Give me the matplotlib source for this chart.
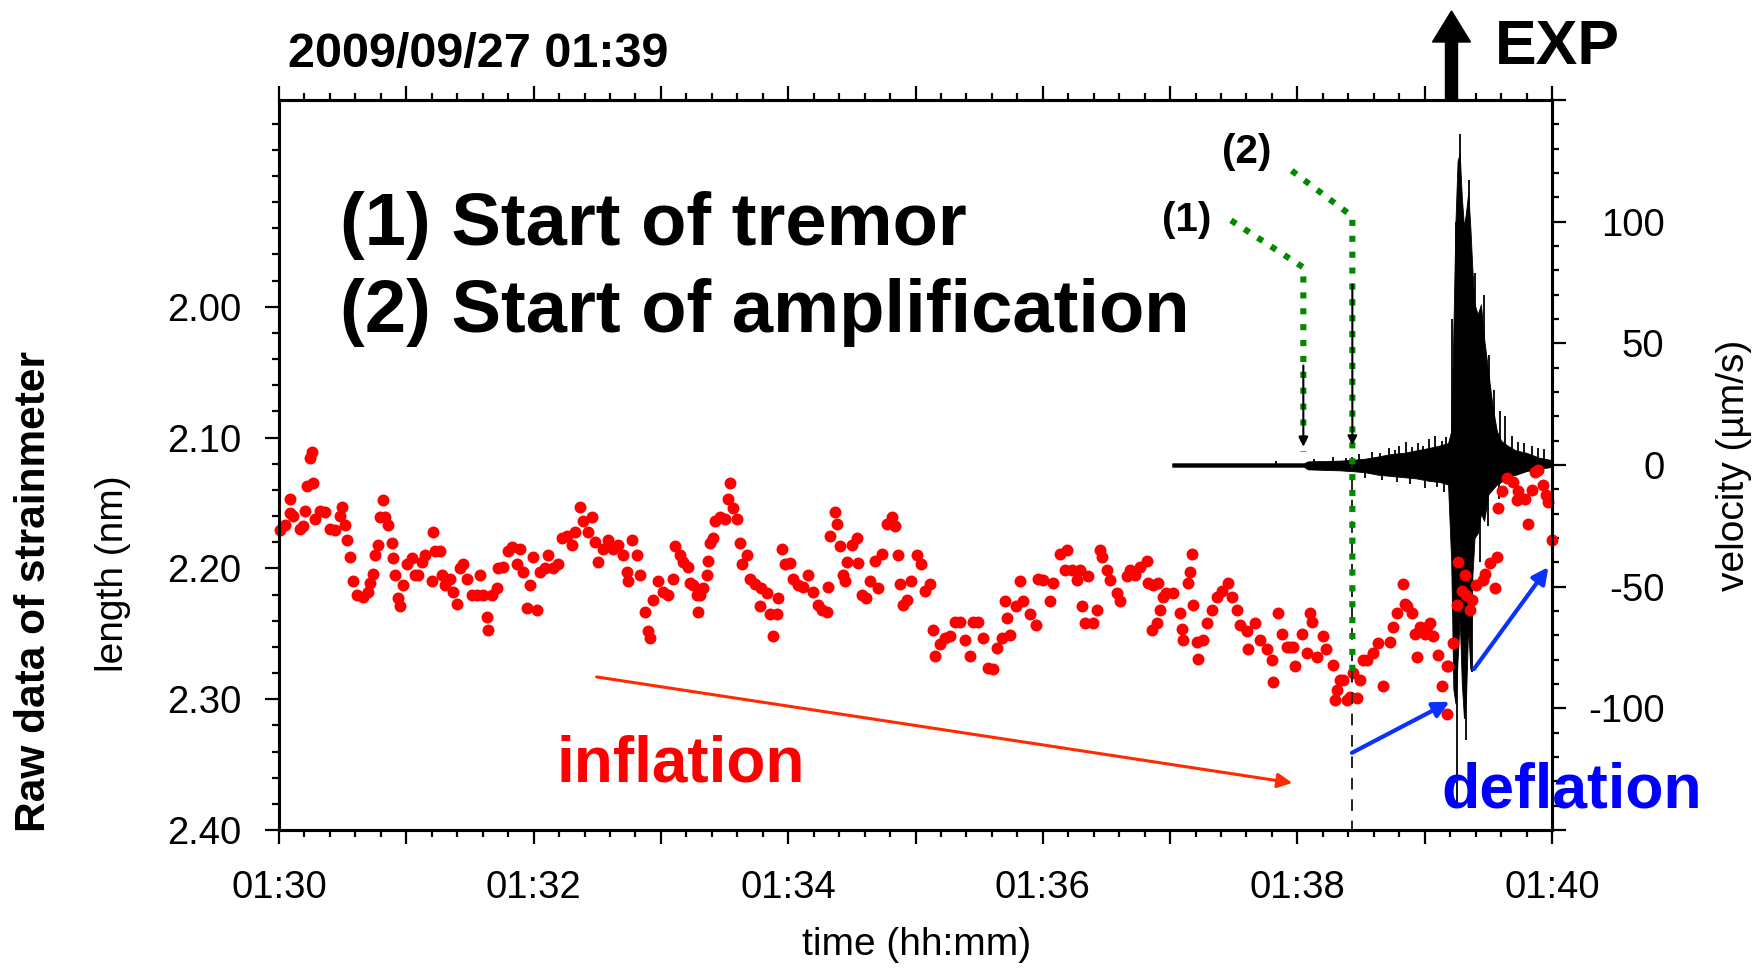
import matplotlib
matplotlib.use("Agg")
import matplotlib.pyplot as plt
import numpy as np
from matplotlib.patches import FancyArrow

plt.rcParams["font.family"] = ["Liberation Sans", "DejaVu Sans"]

W, H = 1765, 971  # output size in pixels


def fx(x):
    return x / W


def fy(y):
    return 1 - y / H


# ---- strainmeter samples: seconds after 01:30:00, length (nm) ----
strain_t = [
    0.5, 2.8, 5.2, 5.2, 6.8, 9.9, 11.5, 12.3, 13.0, 14.6, 15.4, 16.2, 17.0, 19.3, 21.7, 24.0,
    26.4, 28.8, 29.5, 31.1, 31.9, 33.5, 35.0, 36.6, 39.7, 42.1, 42.9, 44.5, 45.2, 46.8, 47.6,
    49.2, 50.0, 51.5, 53.1, 53.9, 54.7, 56.2, 57.0, 58.6, 60.2, 62.5, 64.1, 65.7, 67.2, 68.8,
    71.9, 72.7, 73.5, 75.9, 76.7, 78.2, 80.6, 82.2, 83.7, 85.3, 86.9, 88.4, 90.8, 93.2, 94.7,
    96.3, 97.9, 98.7, 100.2, 102.6, 103.4, 105.7, 108.1, 109.7, 112.0, 113.6, 115.2, 116.7,
    118.3, 119.9, 121.4, 123.0, 125.4, 126.9, 129.3, 131.7, 133.2, 135.6, 138.0, 139.5, 141.9,
    143.4, 145.8, 147.4, 148.9, 150.5, 152.9, 155.2, 157.6, 159.9, 162.3, 163.9, 164.6, 166.2,
    168.6, 170.1,
    172.5, 174.0, 174.8, 176.4, 178.7, 181.1, 183.5, 185.8, 186.6, 189.0, 190.5, 192.9, 193.7,
    195.2, 196.8, 197.6, 198.4, 200.0, 201.5, 202.3, 203.1, 204.7, 205.4, 207.8, 210.2, 211.7,
    212.5, 214.1, 215.7, 217.2, 218.0, 220.4, 221.9, 224.3, 226.7, 227.4, 229.8, 231.4, 232.9,
    234.5, 235.3, 236.9, 238.4, 240.8, 242.4, 244.7, 247.1, 249.4, 251.8, 254.1, 255.7, 258.1,
    258.9, 259.6, 262.0, 262.8, 264.4, 265.9, 266.7, 267.5, 269.9, 272.2, 273.0, 274.6, 276.9,
    278.5, 280.9, 282.4, 284.0, 286.4, 288.7, 290.3, 291.9, 292.6, 294.2, 295.8, 298.1, 300.5,
    302.8, 304.4, 306.8, 308.3, 309.1, 311.5, 313.8, 316.2, 318.6, 320.9, 323.3, 325.6, 327.2,
    329.6, 331.9, 334.3, 336.6, 338.2, 340.6, 342.1, 342.9, 344.5, 347.6, 349.2, 350.8, 353.9,
    357.0, 357.8,
    360.2, 363.4, 365.0, 368.1, 370.5, 371.2, 373.6, 376.0, 377.5, 378.3, 379.9, 381.4, 383.8,
    385.4, 386.9, 387.7, 390.1, 391.6, 394.8, 396.4, 399.5, 401.1, 403.4, 405.8, 408.9, 409.7,
    411.3, 412.1, 413.6, 414.4, 415.2, 416.8, 418.3, 421.5, 424.6, 425.4, 426.2, 428.6, 429.3,
    430.1, 430.9, 432.5, 433.3, 435.6, 437.2, 439.6, 441.9, 444.3, 447.4, 449.0, 451.3, 452.9,
    456.1, 456.8, 460.0, 462.3, 465.5, 467.8, 468.6, 471.0, 472.6, 474.9,
    476.5, 478.1, 478.8, 482.0, 484.3, 485.9, 486.7, 489.1, 492.2, 493.7, 496.9, 497.7, 498.5,
    500.0, 501.6, 503.2, 504.8, 506.3, 507.9, 509.5, 511.0, 512.6, 515.8, 518.1, 520.5, 523.6,
    525.2, 526.8,
    529.9, 530.7, 531.5, 533.8, 535.4, 536.2, 537.7, 540.1, 540.9, 542.5, 544.0, 546.4, 548.0,
    550.3, 550.7, 551.1, 553.5, 555.1, 555.8, 557.4, 558.9, 559.7, 561.4, 562.1, 564.4, 567.6,
    568.4, 570.7, 573.1, 573.9, 574.6, 576.2, 578.6, 581.7, 583.3, 584.1, 587.2, 588.8, 590.4,
    591.9, 593.5, 595.9, 597.4, 598.2, 599.8,
]
strain_nm = [
    2.171, 2.167, 2.147, 2.158, 2.160, 2.170, 2.168, 2.156, 2.137, 2.116, 2.111, 2.135, 2.162,
    2.156, 2.157, 2.170, 2.171, 2.160, 2.153, 2.167, 2.178, 2.191, 2.210, 2.220, 2.222, 2.218,
    2.211, 2.204, 2.190, 2.182, 2.161, 2.148, 2.161, 2.167, 2.181, 2.192, 2.205, 2.223, 2.229,
    2.213, 2.197, 2.192, 2.205, 2.205, 2.195, 2.190, 2.210, 2.172, 2.187, 2.187, 2.205, 2.213,
    2.208, 2.218, 2.227, 2.200, 2.197, 2.208, 2.220, 2.220, 2.205, 2.220, 2.237, 2.247, 2.220,
    2.215, 2.200, 2.199, 2.187, 2.184, 2.197, 2.185, 2.203, 2.230, 2.213, 2.191, 2.232, 2.203,
    2.200, 2.190, 2.200, 2.197, 2.177, 2.175, 2.182, 2.172, 2.153, 2.164, 2.172, 2.161, 2.180,
    2.195, 2.185, 2.178, 2.185, 2.182, 2.190, 2.203, 2.210, 2.178, 2.190, 2.205,
    2.233, 2.248, 2.253, 2.224, 2.210, 2.218, 2.220, 2.208, 2.183, 2.190, 2.195, 2.199, 2.211,
    2.213, 2.220, 2.233, 2.220, 2.215, 2.205, 2.194, 2.181, 2.177, 2.164, 2.161, 2.162, 2.147,
    2.135, 2.154, 2.162, 2.181, 2.197, 2.190, 2.208, 2.212, 2.229, 2.215, 2.219, 2.235, 2.252,
    2.235, 2.223, 2.185, 2.197, 2.196, 2.208, 2.213, 2.214, 2.205, 2.218, 2.228, 2.232, 2.233,
    2.214, 2.175, 2.157, 2.166, 2.183, 2.205, 2.210, 2.195, 2.182, 2.177, 2.196, 2.220, 2.223,
    2.210, 2.194, 2.215, 2.189, 2.166, 2.161, 2.168, 2.190, 2.212, 2.228, 2.224, 2.210, 2.190,
    2.197, 2.217, 2.212, 2.247, 2.267, 2.258, 2.253, 2.252, 2.241, 2.241, 2.255, 2.267, 2.241,
    2.241, 2.253, 2.276, 2.277, 2.261, 2.253, 2.225, 2.238, 2.251, 2.229, 2.210, 2.225, 2.235,
    2.243, 2.208,
    2.209, 2.225, 2.211, 2.189, 2.201, 2.186, 2.201, 2.209, 2.201, 2.229, 2.242, 2.206, 2.242,
    2.232, 2.186, 2.191, 2.201, 2.209, 2.219, 2.225, 2.206, 2.201, 2.205, 2.199, 2.194, 2.211,
    2.247, 2.213, 2.242, 2.211, 2.232, 2.222, 2.219, 2.219, 2.234, 2.246, 2.255, 2.211, 2.203,
    2.189, 2.228, 2.256, 2.269, 2.255, 2.242, 2.232, 2.222, 2.217, 2.211, 2.222, 2.232, 2.243,
    2.248, 2.262, 2.242, 2.255, 2.262, 2.270, 2.287, 2.234, 2.250, 2.260,
    2.260, 2.260, 2.275, 2.250, 2.265, 2.234, 2.241, 2.268, 2.252, 2.262, 2.274, 2.301, 2.293,
    2.285, 2.285, 2.301, 2.298, 2.280, 2.299, 2.285, 2.270, 2.270, 2.265, 2.257, 2.290, 2.256,
    2.245, 2.234,
    2.212, 2.227, 2.229, 2.234, 2.250, 2.268, 2.245, 2.250, 2.245, 2.242, 2.252, 2.266, 2.290,
    2.311, 2.275, 2.275, 2.257, 2.228, 2.195, 2.217, 2.205, 2.220, 2.232, 2.224, 2.213, 2.209,
    2.204, 2.196, 2.215, 2.191, 2.154, 2.141, 2.131, 2.134, 2.148, 2.141, 2.147, 2.166, 2.140,
    2.126, 2.125, 2.136, 2.144, 2.149, 2.178,
]

# ---- seismometer velocity envelope (um/s) ----
seis_t = [421, 450, 483, 485, 500, 507, 512, 518, 524, 530, 536, 542, 547, 551, 552.5, 553.5,
          554.5, 555.5, 556.5, 557.5, 558.5, 559.5, 560.5, 561.5, 562.5, 563.5, 565, 566.5,
          568, 570, 572, 574, 576, 579, 583, 588, 594, 600]
seis_upper = [0.7, 0.7, 0.7, 1.5, 1.8, 2.2, 2.6, 3.5, 4.5, 5.0, 6.0, 7.0, 8.0, 9.0, 14, 55,
              100, 125, 128, 110, 98, 104, 112, 98, 80, 66, 62, 66, 52, 38, 24, 14, 10, 8, 6,
              5, 3, 2]
seis_lower = [-0.7, -0.7, -0.7, -1.8, -2.2, -2.6, -3.0, -4.0, -4.5, -5.0, -5.5, -6.5, -7.0,
              -8.0, -40, -92, -98, -80, -63, -90, -104, -95, -66, -84, -45, -30, -28, -20,
              -23, -12, -10, -8, -7, -5, -4, -2.5, -1.5, -0.8]
# isolated spikes of the trace
spike_t = [470, 488, 497, 503, 509, 515, 519, 523, 526, 528, 531, 534, 537, 539, 542, 545,
           548, 550, 552.7, 554.6, 556.6, 559.8, 561.0, 563.5, 567.9, 570.5, 572.6, 575.5,
           578.0, 581, 584.0, 587, 590.7, 593.5, 596.2,
           512, 520, 527, 533, 540, 546, 549, 555.4, 559.7, 562.2, 566, 570, 575, 580]
spike_v = [1.8, 2.5, 3.2, 3.0, 4.5, 5.5, 5.0, 7.0, 6.0, 8.0, 9.5, 7.5, 9.0, 8.0, 10.5, 12.0,
           10.0, 11.5, 60, 100, 136, 102, 117, 79, 70, 45, 31, 22, 20, 12, 9.6, 9, 8, 7, 6.6,
           -5.5, -6, -7, -8, -9.5, -9, -11, -141, -113, -85, -40, -25, -14, -9]

x_ticks = [0, 120, 240, 360, 480, 600]
x_ticklabels = ["01:30", "01:32", "01:34", "01:36", "01:38", "01:40"]
y_ticks = [2.00, 2.10, 2.20, 2.30, 2.40]
y_ticklabels = ["2.00", "2.10", "2.20", "2.30", "2.40"]
v_ticks = [-100, -50, 0, 50, 100]
v_ticklabels = ["-100", "-50", "0", "50", "100"]

T_TREMOR = 482.8      # (1) start of tremor
T_AMPLIFY = 505.9     # (2) start of amplification

RED = "#ff0000"
GREEN = "#008a00"
BLUE = "#0a32ff"

fig = plt.figure(figsize=(W / 100, H / 100), dpi=100)
ax = fig.add_axes([fx(279), fy(830), (1552 - 279) / W, (830 - 100) / H])
ax2 = ax.twinx()
ax.set_zorder(2)
ax2.set_zorder(1)
ax.patch.set_visible(False)

# seismogram on the right axis
ax2.fill_between(seis_t, seis_lower, seis_upper, color="black", lw=0.6)
ax2.vlines(spike_t, 0, spike_v, color="black", lw=1.3)
ax2.set_ylim(-150, 150)

# strain data on the left axis (inverted)
ax.plot(strain_t, strain_nm, "o", color=RED, ms=8.6, mew=0, clip_on=False)
ax.set_xlim(0, 600)
ax.set_ylim(2.40, 1.842)

# axes styling
for a in (ax, ax2):
    for sp in a.spines.values():
        sp.set_linewidth(2.2)
ax.set_xticks(np.arange(0, 601, 60))
ax.set_xticklabels([x_ticklabels[i // 2] if i % 2 == 0 else "" for i in range(11)],
                   fontsize=27.5)
ax.set_xticks(np.arange(0, 601, 12), minor=True)
ax.set_yticks(y_ticks)
ax.set_yticklabels(y_ticklabels, fontsize=27.5)
ax.set_yticks(np.arange(1.86, 2.401, 0.02), minor=True)
ax.tick_params(axis="x", which="both", direction="out", top=True, bottom=True, width=1.6)
ax.tick_params(axis="x", which="major", length=10, pad=19)
ax.tick_params(axis="x", which="minor", length=5)
ax.tick_params(axis="y", which="both", direction="out", width=1.6)
ax.tick_params(axis="y", which="major", length=10, pad=17)
ax.tick_params(axis="y", which="minor", length=5)

ax2.set_yticks(v_ticks + [-150, 150])
ax2.set_yticklabels(v_ticklabels + ["", ""], fontsize=27.5, ha="right")
ax2.set_yticks(np.arange(-140, 150, 10), minor=True)
ax2.tick_params(axis="y", which="both", direction="out", width=1.6)
ax2.tick_params(axis="y", which="major", length=10, pad=71)
ax2.tick_params(axis="y", which="minor", length=5)

# tremor markers
ax.annotate("", xy=(T_TREMOR, 2.107), xytext=(T_TREMOR, 2.045),
            arrowprops=dict(arrowstyle="-|>", color="black", lw=1.5, mutation_scale=14,
                            shrinkA=0, shrinkB=0))
ax.annotate("", xy=(T_AMPLIFY, 2.106), xytext=(T_AMPLIFY, 1.983),
            arrowprops=dict(arrowstyle="-|>", color="black", lw=1.5, mutation_scale=14,
                            shrinkA=0, shrinkB=0))
ax.plot([T_AMPLIFY, T_AMPLIFY], [2.115, 2.40], color="#222222", lw=1.4, ls=(0, (6, 5)))
dots = (0, (1, 1.6))
ax.plot([448.7, T_TREMOR, T_TREMOR], [1.934, 1.970, 2.111], color=GREEN, lw=4.4,
        ls=dots, dash_capstyle="butt")
ax.plot([477.3, T_AMPLIFY, T_AMPLIFY], [1.896, 1.931, 2.283], color=GREEN, lw=4.4,
        ls=dots, dash_capstyle="butt")

# trend arrows
ax.annotate("", xy=(477.6, 2.364), xytext=(149.7, 2.283),
            arrowprops=dict(arrowstyle="-|>", color="#ff2a00", lw=2.2, mutation_scale=22,
                            shrinkA=0, shrinkB=0))
ax.annotate("", xy=(551.7, 2.302), xytext=(505.7, 2.341),
            arrowprops=dict(arrowstyle="-|>", color=BLUE, lw=3, mutation_scale=24,
                            shrinkA=0, shrinkB=0))
ax.annotate("", xy=(598.3, 2.199), xytext=(563.2, 2.277),
            arrowprops=dict(arrowstyle="-|>", color=BLUE, lw=3, mutation_scale=24,
                            shrinkA=0, shrinkB=0))

# texts
fig.text(fx(340), fy(245), "(1) Start of tremor", fontsize=53.5, fontweight="bold",
         va="baseline")
fig.text(fx(340), fy(332), "(2) Start of amplification", fontsize=53.5, fontweight="bold",
         va="baseline")
fig.text(fx(1162), fy(231), "(1)", fontsize=29, fontweight="bold", va="baseline")
fig.text(fx(1222), fy(163), "(2)", fontsize=29, fontweight="bold", va="baseline")
fig.text(fx(557), fy(781), "inflation", fontsize=46, fontweight="bold", color=RED,
         va="baseline")
fig.text(fx(1441), fy(808), "deflation", fontsize=45, fontweight="bold", color="#0000ff",
         va="baseline")
fig.text(fx(288), fy(67), "2009/09/27 01:39", fontsize=35, fontweight="bold",
         va="baseline")
fig.text(fx(1495), fy(64), "EXP", fontsize=45, fontweight="bold", va="baseline")
fig.add_artist(FancyArrow(fx(1451.5), fy(100), 0, (100 - 11) / H, width=12 / W,
                          head_width=38 / W, head_length=31 / H, length_includes_head=True,
                          color="black", transform=fig.transFigure))

fig.text(fx(917), fy(945), "time (hh:mm)", fontsize=28, ha="center", va="center")
fig.text(fx(113), fy(574), "length (nm)", fontsize=28, rotation=90, ha="center",
         va="center")
fig.text(fx(34), fy(591), "Raw data of strainmeter", fontsize=30.5, fontweight="bold",
         rotation=90, ha="center", va="center")
fig.text(fx(1734), fy(465), "velocity (\u00b5m/s)", fontsize=28, rotation=90, ha="center",
         va="center")

fig.savefig("out.png", dpi=100)
